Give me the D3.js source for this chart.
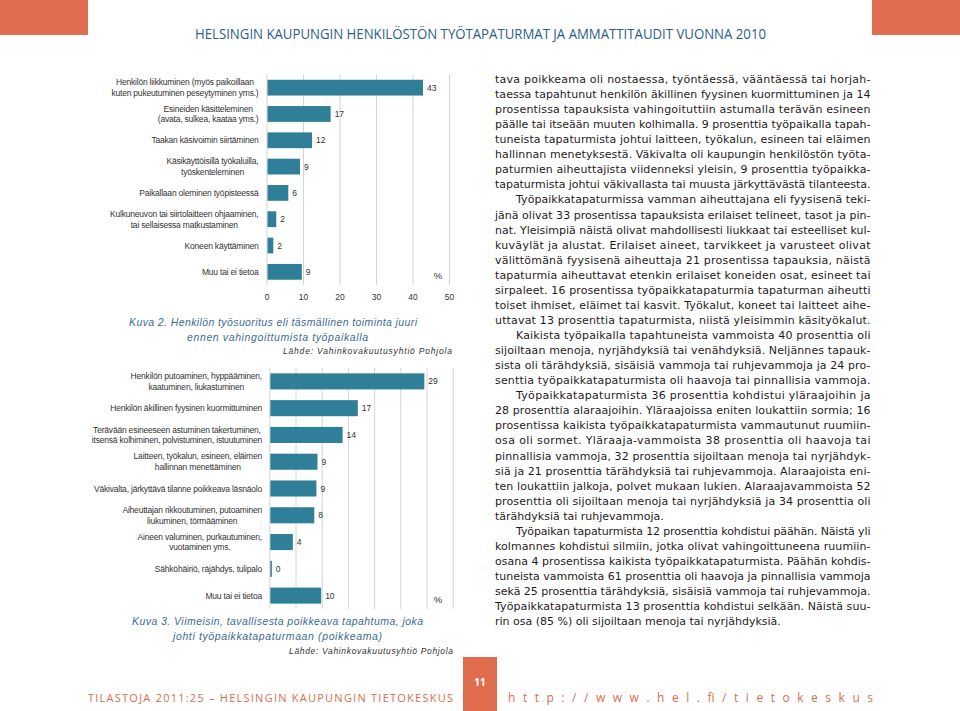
<!DOCTYPE html>
<html lang="fi">
<head>
  <meta charset="UTF-8">
  <title>Työtapaturmat 2010</title>
  <style>
    body { margin: 0; background: #fff; }
    svg { display: block; }
  </style>
</head>
<body>
  <script src="https://d3js.org/d3.v7.min.js"></script>
  <script>
    // Kuva 2 data
    const cats1 = [
      ['Henkilön liikkuminen (myös paikoillaan', 'kuten pukeutuminen peseytyminen yms.)'],
      ['Esineiden käsitteleminen', '(avata, sulkea, kaataa yms.)'],
      ['Taakan käsivoimin siirtäminen'],
      ['Käsikäyttöisillä työkaluilla,', 'työskenteleminen'],
      ['Paikallaan oleminen työpisteessä'],
      ['Kulkuneuvon tai siirtolaitteen ohjaaminen,', 'tai sellaisessa matkustaminen'],
      ['Koneen käyttäminen'],
      ['Muu tai ei tietoa']
    ];
    const vals1 = [42.6, 17.3, 12.2, 8.9, 5.7, 2.4, 1.6, 9.4];
    const ticks1 = [0, 10, 20, 30, 40, 50];

    // Kuva 3 data
    const cats2 = [
      ['Henkilön putoaminen, hyppääminen,', 'kaatuminen, liukastuminen'],
      ['Henkilön äkillinen fyysinen kuormittuminen'],
      ['Terävään esineeseen astuminen takertuminen,', 'itsensä kolhiminen, polvistuminen, istuutuminen'],
      ['Laitteen, työkalun, esineen, eläimen', 'hallinnan menettäminen'],
      ['Väkivalta, järkyttävä tilanne poikkeava läsnäolo'],
      ['Aiheuttajan rikkoutuminen, putoaminen', 'liukuminen, törmääminen'],
      ['Aineen valuminen, purkautuminen,', 'vuotaminen yms.'],
      ['Sähköhäiriö, räjähdys, tulipalo'],
      ['Muu tai ei tietoa']
    ];
    const vals2 = [29.4, 16.7, 13.8, 9.0, 8.8, 8.4, 4.3, 0.3, 9.7];
    const ticks2 = [0, 5, 10, 15, 20, 25, 30, 35];

    // leipäteksti, rivitys kuten alkuperäisessä (i = sisennys, r = tasaamaton)
    const bodyLines = [
      ['', 'tava poikkeama oli nostaessa, työntäessä, vääntäessä tai horjah-'],
      ['', 'taessa tapahtunut henkilön äkillinen fyysinen kuormittuminen ja 14'],
      ['', 'prosentissa tapauksista vahingoituttiin astumalla terävän esineen'],
      ['', 'päälle tai itseään muuten kolhimalla. 9 prosenttia työpaikalla tapah-'],
      ['', 'tuneista tapaturmista johtui laitteen, työkalun, esineen tai eläimen'],
      ['', 'hallinnan menetyksestä. Väkivalta oli kaupungin henkilöstön työta-'],
      ['', 'paturmien aiheuttajista viidenneksi yleisin, 9 prosenttia työpaikka-'],
      ['', 'tapaturmista johtui väkivallasta tai muusta järkyttävästä tilanteesta.'],
      ['i', 'Työpaikkatapaturmissa vamman aiheuttajana eli fyysisenä teki-'],
      ['', 'jänä olivat 33 prosentissa tapauksista erilaiset telineet, tasot ja pin-'],
      ['', 'nat. Yleisimpiä näistä olivat mahdollisesti liukkaat tai esteelliset kul-'],
      ['', 'kuväylät ja alustat. Erilaiset aineet, tarvikkeet ja varusteet olivat'],
      ['', 'välittömänä fyysisenä aiheuttaja 21 prosentissa tapauksia, näistä'],
      ['', 'tapaturmia aiheuttavat etenkin erilaiset koneiden osat, esineet tai'],
      ['', 'sirpaleet. 16 prosentissa työpaikkatapaturmia tapaturman aiheutti'],
      ['', 'toiset ihmiset, eläimet tai kasvit. Työkalut, koneet tai laitteet aihe-'],
      ['', 'uttavat 13 prosenttia tapaturmista, niistä yleisimmin käsityökalut.'],
      ['i', 'Kaikista työpaikalla tapahtuneista vammoista 40 prosenttia oli'],
      ['', 'sijoiltaan menoja, nyrjähdyksiä tai venähdyksiä. Neljännes tapauk-'],
      ['', 'sista oli tärähdyksiä, sisäisiä vammoja tai ruhjevammoja ja 24 pro-'],
      ['', 'senttia työpaikkatapaturmista oli haavoja tai pinnallisia vammoja.'],
      ['i', 'Työpaikkatapaturmista 36 prosenttia kohdistui yläraajoihin ja'],
      ['', '28 prosenttia alaraajoihin. Yläraajoissa eniten loukattiin sormia; 16'],
      ['', 'prosentissa kaikista työpaikkatapaturmista vammautunut ruumiin-'],
      ['', 'osa oli sormet. Yläraaja-vammoista 38 prosenttia oli haavoja tai'],
      ['', 'pinnallisia vammoja, 32 prosenttia sijoiltaan menoja tai nyrjähdyk-'],
      ['', 'siä ja 21 prosenttia tärähdyksiä tai ruhjevammoja. Alaraajoista eni-'],
      ['', 'ten loukattiin jalkoja, polvet mukaan lukien. Alaraajavammoista 52'],
      ['', 'prosenttia oli sijoiltaan menoja tai nyrjähdyksiä ja 34 prosenttia oli'],
      ['r', 'tärähdyksiä tai ruhjevammoja.'],
      ['i', 'Työpaikan tapaturmista 12 prosenttia kohdistui päähän. Näistä yli'],
      ['', 'kolmannes kohdistui silmiin, jotka olivat vahingoittuneena ruumiin-'],
      ['', 'osana 4 prosentissa kaikista työpaikkatapaturmista. Päähän kohdis-'],
      ['', 'tuneista vammoista 61 prosenttia oli haavoja ja pinnallisia vammoja'],
      ['', 'sekä 25 prosenttia tärähdyksiä, sisäisiä vammoja tai ruhjevammoja.'],
      ['', 'Työpaikkatapaturmista 13 prosenttia kohdistui selkään. Näistä suu-'],
      ['r', 'rin osa (85 %) oli sijoiltaan menoja tai nyrjähdyksiä.']
    ];

    const width = 960, height = 711;
    const orange = '#e06d4d';
    const barColor = '#2f7f98';
    const gridColor = '#d4d4d4';
    const labelFont = '"Liberation Sans", Arial, sans-serif';

    const svg = d3.select('body').append('svg')
      .attr('width', width).attr('height', height);

    // --- ylätunniste ---
    svg.append('rect').attr('x', 0).attr('y', 0).attr('width', 88).attr('height', 35).attr('fill', orange);
    svg.append('rect').attr('x', 872).attr('y', 0).attr('width', 88).attr('height', 35).attr('fill', orange);
    svg.append('text')
      .attr('x', 195).attr('y', 39)
      .attr('textLength', 571).attr('lengthAdjust', 'spacingAndGlyphs')
      .style('font-family', '"Open Sans", sans-serif').style('font-size', '14.5px')
      .attr('fill', '#2b5d8b')
      .text('HELSINGIN KAUPUNGIN HENKILÖSTÖN TYÖTAPATURMAT JA AMMATTITAUDIT VUONNA 2010');

    // --- vaakapylväskuvio ---
    function barChart(cfg) {
      const x = d3.scaleLinear().domain(cfg.domain).range(cfg.xRange);
      const y = d3.scaleBand().domain(d3.range(cfg.cats.length))
        .range(cfg.yRange).paddingInner(0.4).paddingOuter(0.2);

      const g = svg.append('g');

      // pystyviivat
      g.append('g').selectAll('line')
        .data(cfg.ticks).join('line')
        .attr('x1', d => x(d) + 0.5).attr('x2', d => x(d) + 0.5)
        .attr('y1', cfg.yRange[0]).attr('y2', cfg.yRange[1])
        .attr('stroke', gridColor).attr('stroke-width', 1);

      // pylväät
      g.append('g').selectAll('rect')
        .data(cfg.vals).join('rect')
        .attr('x', x(0) + 1)
        .attr('y', (d, i) => y(i))
        .attr('width', d => Math.max(1.5, x(d) - x(0)))
        .attr('height', y.bandwidth())
        .attr('fill', barColor);

      // arvot
      g.append('g').selectAll('text')
        .data(cfg.vals).join('text')
        .attr('x', d => Math.max(x(0) + 1.5, x(d)) + 5)
        .attr('y', (d, i) => y(i) + y.bandwidth() / 2 + 3)
        .style('font-family', labelFont).style('font-size', '8.5px')
        .attr('fill', '#333')
        .text(d => d3.format('.0f')(d));

      // luokat (monirivinen, keskitetty lohko oikeaan reunaan)
      cfg.cats.forEach((lines, i) => {
        const cy = y(i) + y.bandwidth() / 2;
        const lg = g.append('g');
        const lh = 10.8;
        const t = lg.selectAll('text').data(lines).join('text')
          .attr('y', (d, j) => cy + 3 + (j - (lines.length - 1) / 2) * lh)
          .style('font-family', labelFont).style('font-size', '8.5px')
          .style('letter-spacing', '-0.2px')
          .attr('fill', '#333')
          .attr('text-anchor', 'middle')
          .text(d => d);
        const maxW = d3.max(t.nodes(), n => n.getComputedTextLength());
        t.attr('x', cfg.labelRight - maxW / 2);
      });

      // x-akseli
      if (cfg.showAxis) {
        const ax = g.append('g')
          .attr('transform', `translate(0,${cfg.yRange[1] + 3})`)
          .call(d3.axisBottom(x).tickValues(cfg.ticks).tickSize(0).tickPadding(6));
        ax.select('.domain').remove();
        ax.selectAll('text')
          .style('font-family', labelFont).style('font-size', '8.5px')
          .attr('fill', '#333');
      }

      g.append('text')
        .attr('x', 438).attr('y', cfg.yRange[1] - 6)
        .attr('text-anchor', 'middle')
        .style('font-family', labelFont).style('font-size', '9.5px')
        .attr('fill', '#333')
        .text('%');

      // otsikko ja lähde
      cfg.caption.forEach(c => {
        g.append('text')
          .attr('x', c.x).attr('y', c.y)
          .attr('textLength', c.w).attr('lengthAdjust', 'spacing')
          .style('font-family', labelFont).style('font-size', '10.5px')
          .style('font-style', 'italic')
          .attr('fill', '#3c6c95')
          .text(c.t);
      });
      g.append('text')
        .attr('x', cfg.source.x).attr('y', cfg.source.y)
        .attr('textLength', cfg.source.w).attr('lengthAdjust', 'spacing')
        .style('font-family', labelFont).style('font-size', '8.5px')
        .style('font-style', 'italic')
        .attr('fill', '#333')
        .text('Lähde: Vahinkovakuutusyhtiö Pohjola');
    }

    barChart({
      cats: cats1, vals: vals1, ticks: ticks1, domain: [0, 50],
      xRange: [266.5, 449], yRange: [74.5, 285], labelRight: 258.5, showAxis: true,
      caption: [
        { t: 'Kuva 2. Henkilön työsuoritus eli  täsmällinen toiminta juuri', x: 129, y: 326, w: 288 },
        { t: 'ennen  vahingoittumista työpaikalla', x: 187, y: 341, w: 181 }
      ],
      source: { x: 283, y: 354, w: 169 }
    });

    barChart({
      cats: cats2, vals: vals2, ticks: ticks2, domain: [0, 35],
      xRange: [269.3, 452.7], yRange: [368, 609], labelRight: 262, showAxis: false,
      caption: [
        { t: 'Kuva 3. Viimeisin, tavallisesta poikkeava tapahtuma, joka', x: 132, y: 625, w: 291 },
        { t: 'johti työpaikkatapaturmaan (poikkeama)', x: 173, y: 640, w: 209 }
      ],
      source: { x: 289, y: 654, w: 164 }
    });

    // --- leipäteksti ---
    const textLeft = 495, textRight = 870.5, lineH = 15.06;
    svg.append('g').selectAll('text')
      .data(bodyLines).join('text')
      .attr('x', d => d[0] === 'i' ? textLeft + 21 : textLeft)
      .attr('y', (d, i) => 83 + i * lineH)
      .each(function(d) {
        if (d[0] !== 'r') {
          d3.select(this)
            .attr('textLength', textRight - (d[0] === 'i' ? textLeft + 21 : textLeft))
            .attr('lengthAdjust', 'spacing');
        }
      })
      .style('font-family', '"DejaVu Sans", Verdana, sans-serif').style('font-size', '11px')
      .attr('fill', '#1f1b1c')
      .text(d => d[1]);

    // --- alatunniste ---
    svg.append('rect').attr('x', 463).attr('y', 657).attr('width', 34).attr('height', 54).attr('fill', orange);
    svg.append('text')
      .attr('x', 480).attr('y', 686).attr('text-anchor', 'middle')
      .style('font-family', '"Open Sans", sans-serif').style('font-size', '10px').style('font-weight', 'bold')
      .attr('fill', '#fff')
      .text('11');
    svg.append('text')
      .attr('x', 88).attr('y', 702)
      .attr('textLength', 365).attr('lengthAdjust', 'spacing')
      .style('font-family', '"Open Sans", sans-serif').style('font-size', '11px')
      .attr('fill', '#d86f4f')
      .text('TILASTOJA 2011:25 – HELSINGIN KAUPUNGIN TIETOKESKUS');
    svg.append('text')
      .attr('x', 508).attr('y', 702)
      .attr('textLength', 365).attr('lengthAdjust', 'spacing')
      .style('font-family', '"Open Sans", sans-serif').style('font-size', '12px')
      .attr('fill', '#d86f4f')
      .text('http://www.hel.fi/tietokeskus');
  </script>
</body>
</html>
